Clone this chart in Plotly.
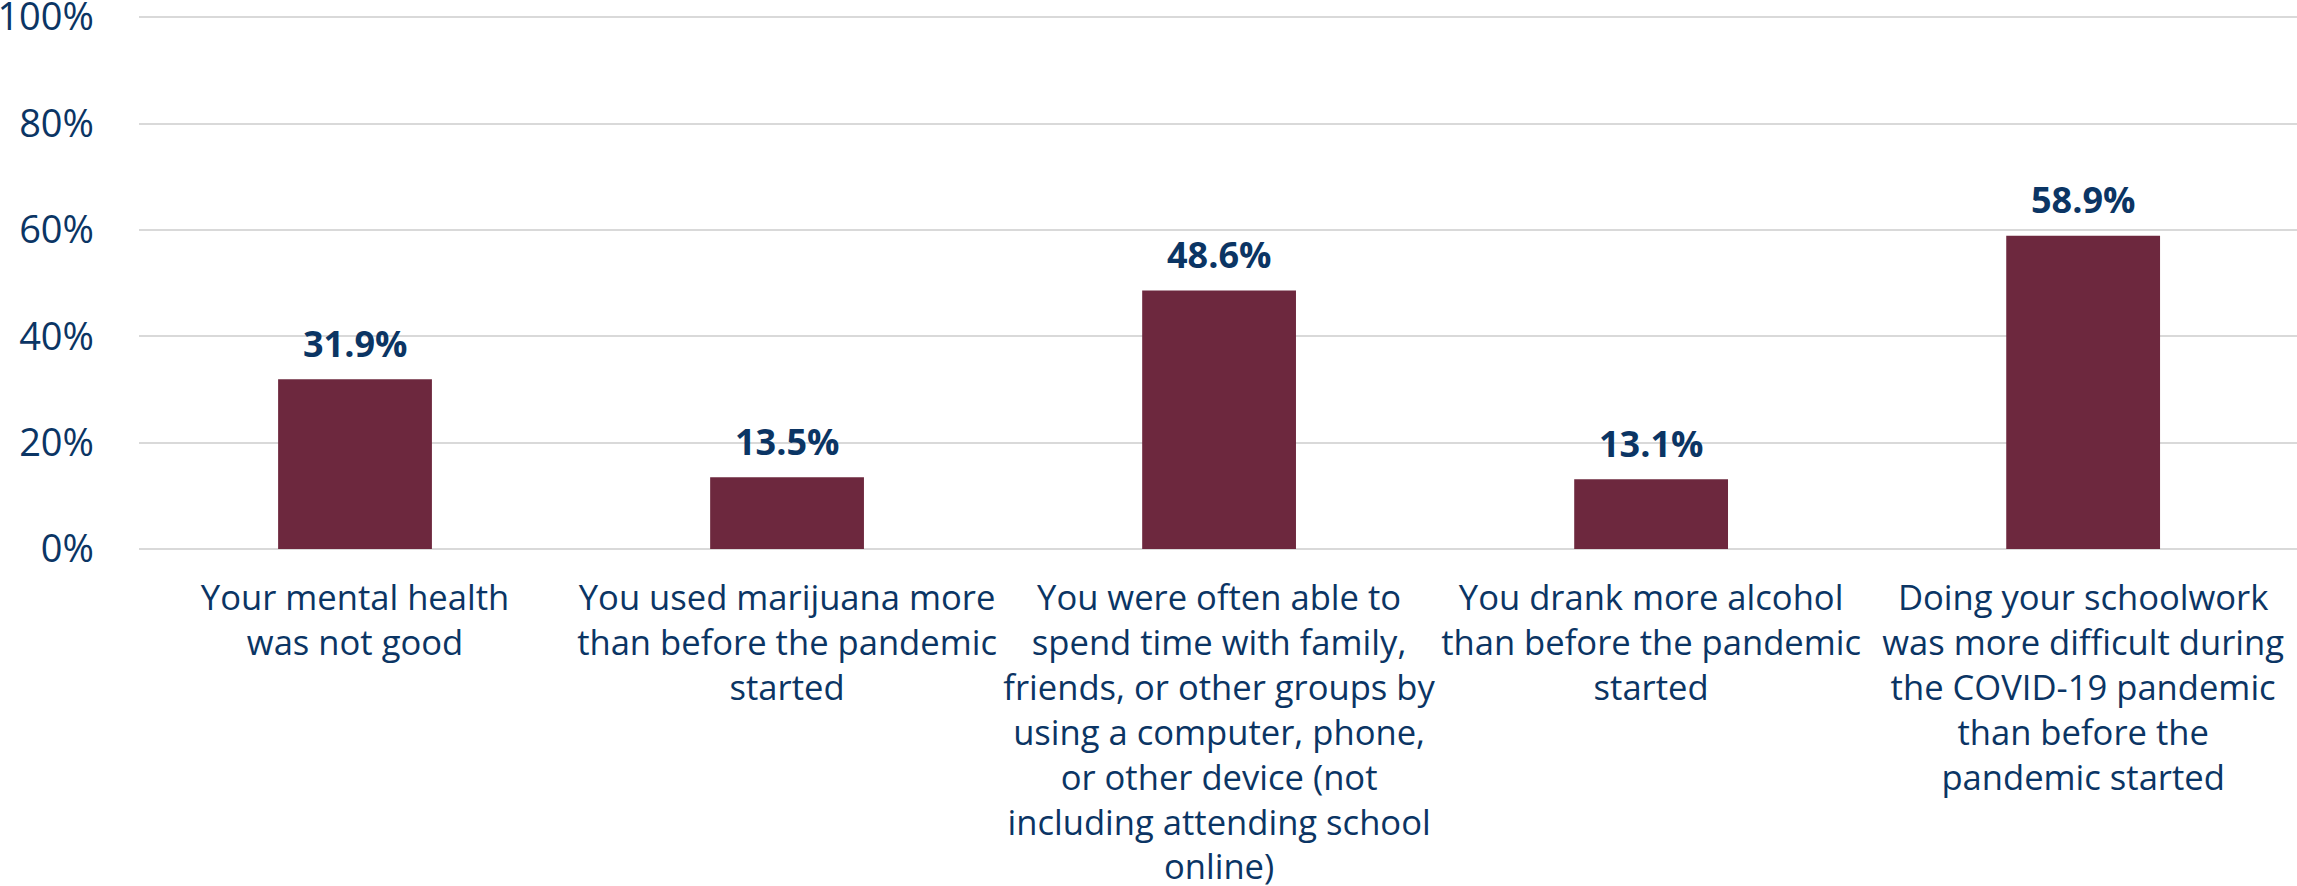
import plotly.graph_objects as go

categories = [
    "Your mental health<br>was not good",
    "You used marijuana more<br>than before the pandemic<br>started",
    "You were often able to<br>spend time with family,<br>friends, or other groups by<br>using a computer, phone,<br>or other device (not<br>including attending school<br>online)",
    "You drank more alcohol<br>than before the pandemic<br>started",
    "Doing your schoolwork<br>was more difficult during<br>the COVID-19 pandemic<br>than before the<br>pandemic started",
]
values = [31.9, 13.5, 48.6, 13.1, 58.9]
value_labels = ["31.9%", "13.5%", "48.6%", "13.1%", "58.9%"]
y_ticks = [0, 20, 40, 60, 80, 100]
y_tick_labels = ["0%", "20%", "40%", "60%", "80%", "100%"]

navy = "#0B3564"
bar_color = "#6D283E"
font_family = "Open Sans, Lato, sans-serif"

fig = go.Figure(
    go.Bar(
        x=list(range(len(categories))),
        y=values,
        marker=dict(color=bar_color, line=dict(width=0)),
        hovertext=value_labels,
    )
)

for i, (v, lab) in enumerate(zip(values, value_labels)):
    fig.add_annotation(
        x=i, y=v, text=lab, showarrow=False,
        yanchor="middle", yshift=36,
        font=dict(family=font_family, size=36, color=navy, weight="bold"),
    )

fig.update_layout(
    width=2297,
    height=886,
    margin=dict(l=139, r=0, t=15, b=337),
    paper_bgcolor="white",
    plot_bgcolor="white",
    bargap=0.644,
    showlegend=False,
    font=dict(family=font_family, color=navy),
)
fig.update_xaxes(
    tickmode="array",
    tickvals=list(range(len(categories))),
    ticktext=categories,
    range=[-0.5, 4.495],
    tickfont=dict(family=font_family, size=34.6, color=navy),
    showgrid=False,
    showline=False,
    zeroline=False,
    ticks="",
    ticklabelstandoff=25,
    tickangle=0,
    automargin=False,
    ticklabeloverflow="allow",
)
fig.update_yaxes(
    range=[0, 100.4],
    tickvals=y_ticks,
    ticktext=y_tick_labels,
    tickfont=dict(family=font_family, size=38, color=navy),
    showgrid=True,
    gridcolor="#D9D9D9",
    gridwidth=2,
    zeroline=True,
    zerolinecolor="#D9D9D9",
    zerolinewidth=2,
    showline=False,
    ticks="",
    ticklabelstandoff=44,
    automargin=False,
    ticklabeloverflow="allow",
)

fig.write_html(
    "out.html",
    config={"displayModeBar": False},
    post_script="document.body.style.margin='0';",
)
